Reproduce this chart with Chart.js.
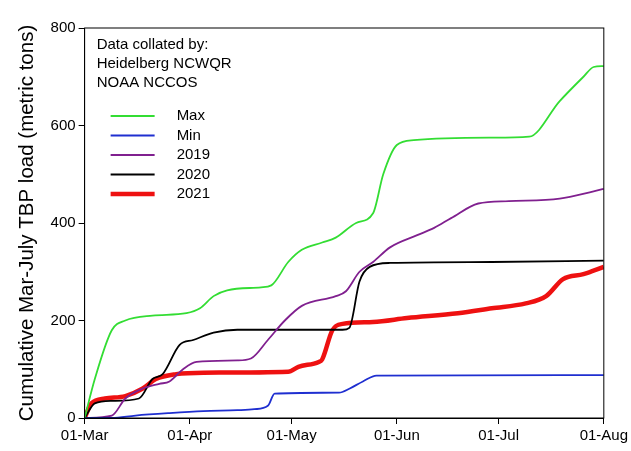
<!DOCTYPE html>
<html>
<head>
<meta charset="utf-8">
<script src="https://cdn.jsdelivr.net/npm/chart.js@4"></script>
<style>
  body { margin: 0; background: #fff; }
  #wrap { width: 631px; height: 451px; }
</style>
</head>
<body>
<div id="wrap"><canvas id="chart"></canvas></div>
<script>
// day index from 01-Mar
var tickDays = [0, 31, 61, 92, 122, 153];
var tickLabels = ['01-Mar', '01-Apr', '01-May', '01-Jun', '01-Jul', '01-Aug'];
var noteLines = ['Data collated by:', 'Heidelberg NCWQR', 'NOAA NCCOS'];

var maxDays = [0, 3, 8, 12, 20, 30, 34, 38, 42, 52, 55, 60, 64, 70, 74, 80, 85, 88, 92, 97, 120, 131, 140, 147, 150, 153];
var maxVals = [0, 80, 180, 200, 210, 215, 225, 250, 262, 268, 272, 320, 345, 360, 370, 400, 420, 500, 560, 570, 575, 577, 650, 700, 720, 722];

var minDays = [0, 8, 15, 25, 35, 45, 50, 54, 56, 75, 78, 82, 86, 153];
var minVals = [0, 0, 5, 10, 14, 16, 18, 25, 50, 52, 60, 75, 87, 88];

var y2019Days = [0, 8, 12, 17, 22, 25, 29, 33, 45, 49, 54, 59, 64, 74, 77, 81, 85, 90, 98, 103, 108, 116, 125, 140, 150, 153];
var y2019Vals = [0, 5, 40, 60, 70, 75, 100, 115, 118, 122, 160, 200, 230, 250, 260, 300, 320, 350, 375, 390, 410, 440, 445, 450, 465, 470];

var y2020Days = [0, 3, 8, 16, 20, 23, 28, 32, 38, 45, 76, 78, 81, 84, 90, 120, 153];
var y2020Vals = [0, 30, 35, 40, 80, 90, 150, 160, 175, 181, 181, 185, 280, 310, 318, 320, 323];

var y2021Days = [0, 2, 6, 12, 17, 21, 27, 35, 60, 63, 69, 70, 73, 76, 85, 95, 110, 120, 130, 136, 141, 147, 153];
var y2021Vals = [0, 30, 40, 45, 60, 80, 90, 93, 95, 105, 115, 120, 180, 193, 197, 205, 215, 225, 235, 250, 285, 295, 310];

function pts(days, vals) {
  return days.map(function (d, i) { return { x: d, y: vals[i] }; });
}

var series = [
  { label: 'Max', data: pts(maxDays, maxVals), borderColor: '#33dd33', borderWidth: 1.8 },
  { label: 'Min', data: pts(minDays, minVals), borderColor: '#1f2fd0', borderWidth: 1.8 },
  { label: '2019', data: pts(y2019Days, y2019Vals), borderColor: '#80208f', borderWidth: 1.8 },
  { label: '2020', data: pts(y2020Days, y2020Vals), borderColor: '#000000', borderWidth: 1.8 },
  { label: '2021', data: pts(y2021Days, y2021Vals), borderColor: '#ee1111', borderWidth: 4.5 }
];
series.forEach(function (s) { s.pointRadius = 0; s.fill = false; s.cubicInterpolationMode = 'monotone'; });

var boxAndLegend = {
  id: 'boxAndLegend',
  afterDraw: function (chart) {
    var ctx = chart.ctx, a = chart.chartArea;
    ctx.save();
    ctx.strokeStyle = '#000';
    ctx.lineWidth = 1;
    ctx.strokeRect(a.left, a.top, a.right - a.left, a.bottom - a.top);
    ctx.fillStyle = '#000';
    ctx.font = '15px "Liberation Sans", Arial, sans-serif';
    ctx.textBaseline = 'middle';
    noteLines.forEach(function (t, i) { ctx.fillText(t, a.left + 12, a.top + 17 + i * 19); });
    chart.data.datasets.forEach(function (ds, i) {
      var y = a.top + 88 + i * 19.5;
      ctx.strokeStyle = ds.borderColor;
      ctx.lineWidth = ds.borderWidth;
      ctx.beginPath();
      ctx.moveTo(a.left + 26, y);
      ctx.lineTo(a.left + 70, y);
      ctx.stroke();
      ctx.fillStyle = '#000';
      ctx.fillText(ds.label, a.left + 92, y);
    });
    ctx.restore();
  }
};

new Chart(document.getElementById('chart'), {
  type: 'line',
  data: { datasets: series },
  options: {
    responsive: true,
    maintainAspectRatio: false,
    animation: false,
    layout: { padding: { top: 28, right: 24, left: 15, bottom: 3 } },
    plugins: { legend: { display: false }, tooltip: { enabled: false } },
    scales: {
      x: {
        type: 'linear', min: 0, max: 153,
        afterBuildTicks: function (axis) { axis.ticks = tickDays.map(function (d) { return { value: d }; }); },
        ticks: {
          color: '#000', font: { size: 15, family: '"Liberation Sans", Arial' },
          maxRotation: 0,
          callback: function (v) { var i = tickDays.indexOf(v); return i >= 0 ? tickLabels[i] : ''; }
        },
        grid: { drawOnChartArea: false, color: '#000', tickLength: 6 },
        border: { color: '#000' }
      },
      y: {
        min: 0, max: 800,
        ticks: { stepSize: 200, color: '#000', font: { size: 15, family: '"Liberation Sans", Arial' } },
        grid: { drawOnChartArea: false, color: '#000', tickLength: 6 },
        border: { color: '#000' },
        title: { display: true, text: 'Cumulative Mar-July TBP load (metric tons)', color: '#000', padding: { top: 0, bottom: 8 }, font: { size: 20.5, family: '"Liberation Sans", Arial' } }
      }
    }
  },
  plugins: [boxAndLegend]
});
</script>
</body>
</html>
